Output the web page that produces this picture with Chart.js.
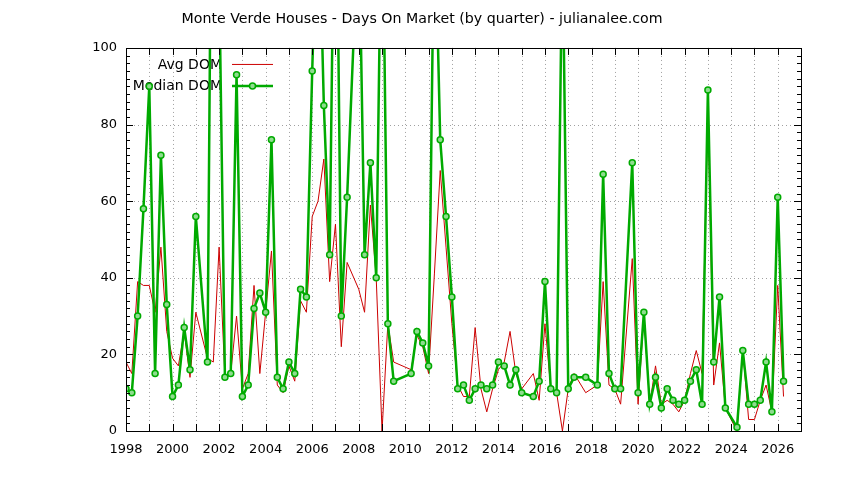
<!DOCTYPE html>
<html>
<head>
<meta charset="utf-8">
<title>Monte Verde Houses - Days On Market</title>
<script src="https://cdn.jsdelivr.net/npm/chart.js@4.4.0/dist/chart.umd.min.js"></script>
<style>
  body { margin: 0; background: #fff; }
</style>
</head>
<body>
<canvas id="domChart" width="844" height="480"></canvas>
<script>
// quarter start as decimal year (missing quarters are simply left out)
const quarters = [
  1998.00, 1998.25, 1998.50, 1998.75, 1999.00, 1999.25, 1999.50, 1999.75,
  2000.00, 2000.25, 2000.50, 2000.75, 2001.00, 2001.50, 2001.75,
  2002.00, 2002.25, 2002.50, 2002.75, 2003.00, 2003.25, 2003.50, 2003.75,
  2004.00, 2004.25, 2004.50, 2004.75, 2005.00, 2005.25, 2005.50, 2005.75,
  2006.00, 2006.25, 2006.50, 2006.75, 2007.00, 2007.25, 2007.50,
  2008.00, 2008.25, 2008.50, 2008.75, 2009.00, 2009.25, 2009.50,
  2010.25, 2010.50, 2010.75, 2011.00, 2011.25, 2011.50, 2011.75,
  2012.00, 2012.25, 2012.50, 2012.75, 2013.00, 2013.25, 2013.50, 2013.75,
  2014.00, 2014.25, 2014.50, 2014.75, 2015.00, 2015.50, 2015.75,
  2016.00, 2016.25, 2016.50, 2016.75, 2017.00, 2017.25, 2017.75,
  2018.25, 2018.50, 2018.75, 2019.00, 2019.25, 2019.75,
  2020.00, 2020.25, 2020.50, 2020.75, 2021.00, 2021.25, 2021.50, 2021.75,
  2022.00, 2022.25, 2022.50, 2022.75, 2023.00, 2023.25, 2023.50, 2023.75,
  2024.25, 2024.50, 2024.75, 2025.00, 2025.25, 2025.50, 2025.75,
  2026.00, 2026.25
];

const avgDom = [
  18, 15, 39, 38, 38, 31, 48, 26,
  19, 17, 26, 14, 31, 19, 18,
  48, 14, 15, 30, 11, 15, 38, 15,
  31, 47, 12, 10, 17, 13, 34, 31,
  56, 60, 71, 39, 54, 22, 44,
  37, 31, 59, 40, 0, 28, 18,
  16, 25, 22, 15, 41, 68, 48,
  28, 12, 9, 9, 27, 11, 5, 11,
  16, 18, 26, 15, 11, 15, 8,
  28, 11, 10, 0, 11, 15, 10,
  12, 39, 12, 11, 7, 45,
  7, 30, 7, 17, 7, 8, 7, 5,
  8, 15, 21, 15, 85, 12, 23, 6,
  0, 21, 3, 3, 8, 12, 5,
  38, 9
];

const medianDom = [
  11, 10, 30, 58, 90, 15, 72, 33,
  9, 12, 27, 16, 56, 18, 210,
  120, 14, 15, 93, 9, 12, 32, 36,
  31, 76, 14, 11, 18, 15, 37, 35,
  94, 145, 85, 46, 170, 30, 61,
  135, 46, 70, 40, 150, 28, 13,
  15, 26, 23, 17, 140, 76, 56,
  35, 11, 12, 8, 11, 12, 11, 12,
  18, 17, 12, 16, 10, 9, 13,
  39, 11, 10, 130, 11, 14, 14,
  12, 67, 15, 11, 11, 70,
  10, 31, 7, 14, 6, 11, 8, 7,
  8, 13, 16, 7, 89, 18, 35, 6,
  1, 21, 7, 7, 8, 18, 5,
  61, 13
];

const yTicks = [0, 20, 40, 60, 80, 100];
const xMin = 1998, xMax = 2027;

const avgColor = '#cc0000';
const medianColor = '#00aa00';

Chart.defaults.font.family = "'DejaVu Sans', sans-serif";
Chart.defaults.font.size = 13;
Chart.defaults.color = '#000';

// grid, frame, inward tics and the key, drawn gnuplot style
const gnuplotFrame = {
  id: 'gnuplotFrame',
  beforeDatasetsDraw(chart) {
    const { ctx, chartArea: a, scales: { x, y } } = chart;
    ctx.save();
    ctx.strokeStyle = '#a0a0a0';
    ctx.lineWidth = 1;
    ctx.setLineDash([1, 3]);
    ctx.beginPath();
    for (let yr = xMin + 1; yr < xMax; yr++) {
      const px = Math.round(x.getPixelForValue(yr)) + 0.5;
      ctx.moveTo(px, a.top);
      ctx.lineTo(px, a.bottom);
    }
    yTicks.slice(1, -1).forEach(v => {
      const py = Math.round(y.getPixelForValue(v)) + 0.5;
      ctx.moveTo(a.left, py);
      ctx.lineTo(a.right, py);
    });
    ctx.stroke();
    ctx.setLineDash([]);

    // key text
    ctx.fillStyle = '#000';
    ctx.font = "14px 'DejaVu Sans', sans-serif";
    ctx.textAlign = 'right';
    ctx.textBaseline = 'middle';
    ctx.fillText(chart.data.datasets[1].label, a.left + 96, a.top + 17);
    ctx.fillText(chart.data.datasets[0].label, a.left + 96, a.top + 38);
    ctx.restore();
  },
  afterDatasetsDraw(chart) {
    const { ctx, chartArea: a, scales: { x, y } } = chart;
    ctx.save();
    ctx.strokeStyle = '#000';
    ctx.lineWidth = 1;
    ctx.beginPath();
    // x tics every year, top and bottom
    for (let yr = xMin + 1; yr < xMax; yr++) {
      const px = Math.round(x.getPixelForValue(yr)) + 0.5;
      ctx.moveTo(px, a.bottom); ctx.lineTo(px, a.bottom - 7);
      ctx.moveTo(px, a.top); ctx.lineTo(px, a.top + 7);
    }
    // y tics, major and minor, both sides
    for (let v = 2; v < 100; v += 2) {
      const len = v % 20 === 0 ? 7 : 4;
      const py = Math.round(y.getPixelForValue(v)) + 0.5;
      ctx.moveTo(a.left, py); ctx.lineTo(a.left + len, py);
      ctx.moveTo(a.right, py); ctx.lineTo(a.right - len, py);
    }
    ctx.stroke();
    ctx.strokeRect(Math.round(a.left) + 0.5, Math.round(a.top) + 0.5,
      Math.round(a.right - a.left), Math.round(a.bottom - a.top));

    // key samples
    const sx0 = a.left + 106, sx1 = a.left + 147;
    ctx.strokeStyle = avgColor;
    ctx.beginPath();
    ctx.moveTo(sx0, a.top + 16.5); ctx.lineTo(sx1, a.top + 16.5);
    ctx.stroke();
    ctx.strokeStyle = medianColor;
    ctx.lineWidth = 2.5;
    ctx.beginPath();
    ctx.moveTo(sx0, a.top + 38); ctx.lineTo(sx1, a.top + 38);
    ctx.stroke();
    ctx.lineWidth = 1.5;
    ctx.fillStyle = '#8fdc8f';
    ctx.beginPath();
    ctx.arc((sx0 + sx1) / 2, a.top + 38, 3, 0, Math.PI * 2);
    ctx.fill();
    ctx.stroke();
    ctx.restore();
  }
};

const ctx = document.getElementById('domChart').getContext('2d');
new Chart(ctx, {
  type: 'line',
  data: {
    datasets: [{
      label: 'Median DOM',
      data: quarters.map((q, i) => ({ x: q, y: medianDom[i] })),
      borderColor: medianColor,
      borderWidth: 2.5,
      pointRadius: 3,
      pointBorderWidth: 1.5,
      pointBorderColor: medianColor,
      pointBackgroundColor: '#8fdc8f',
      tension: 0,
      clip: 0
    }, {
      label: 'Avg DOM',
      data: quarters.map((q, i) => ({ x: q, y: avgDom[i] })),
      borderColor: avgColor,
      borderWidth: 1,
      pointRadius: 0,
      tension: 0,
      clip: 0
    }]
  },
  options: {
    responsive: false,
    animation: false,
    layout: { padding: 0 },
    scales: {
      x: {
        type: 'linear',
        min: xMin,
        max: xMax,
        grid: { display: false, drawTicks: false },
        border: { display: false },
        ticks: {
          stepSize: 1,
          autoSkip: false,
          maxRotation: 0,
          padding: 11,
          callback: v => (v % 2 === 0 ? String(v) : '')
        },
        afterFit: s => { s.height = 49; }
      },
      y: {
        min: 0,
        max: 100,
        grid: { display: false, drawTicks: false },
        border: { display: false },
        ticks: { stepSize: 20, padding: 9 },
        afterFit: s => { s.width = 126; }
      },
      // empty right axis, only keeps the right margin
      y2: {
        position: 'right',
        min: 0,
        max: 100,
        grid: { display: false, drawTicks: false },
        border: { display: false },
        ticks: { display: false },
        afterFit: s => { s.width = 43; }
      }
    },
    plugins: {
      legend: { display: false },
      tooltip: { enabled: false },
      title: {
        display: true,
        text: 'Monte Verde Houses - Days On Market (by quarter) - julianalee.com',
        color: '#000',
        font: { size: 14.2, weight: 'normal' },
        padding: { top: 10.9, bottom: 20 }
      }
    }
  },
  plugins: [gnuplotFrame]
});
</script>
</body>
</html>
